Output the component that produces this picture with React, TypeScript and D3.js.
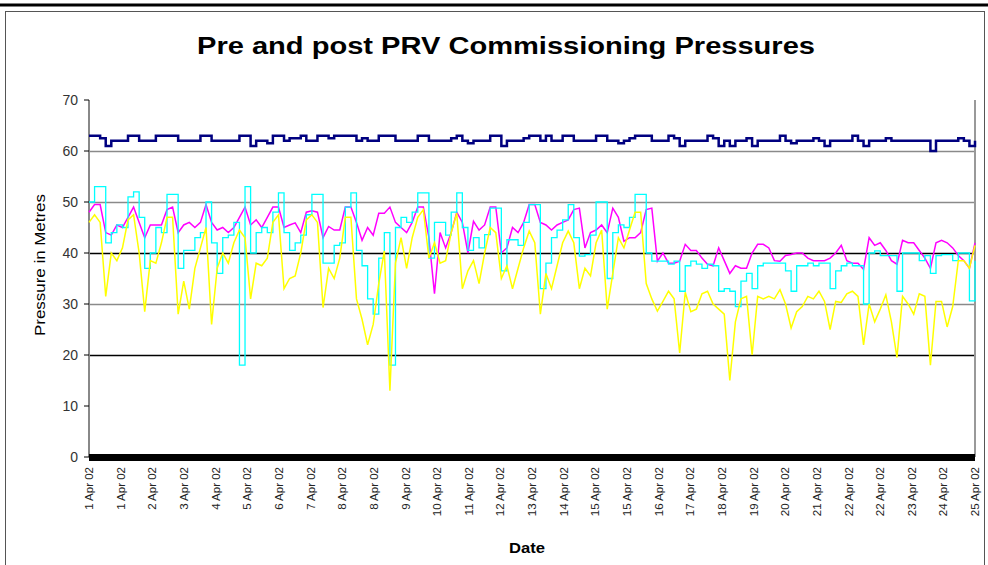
import * as d3 from 'd3';

// readings, evenly spaced across the period (about 6.7 per label interval)
const mainPressure = [
  63, 63, 62.5, 61, 62, 62, 62, 63, 63, 62, 62, 62, 63, 63, 63, 63, 62, 62, 62, 62, 63, 63, 62, 62, 62, 62, 62, 63, 63, 61, 62, 62,
  61.5, 63, 63, 62, 62.5, 62.5, 63, 62, 62, 63, 63, 62.5, 63, 63, 63, 63, 62, 62.5, 62, 62, 63, 63, 63, 62, 62, 62, 62, 63, 63, 62, 62, 62,
  62, 62.5, 63, 62, 61.5, 62, 62, 62, 63, 63, 61, 62, 62, 62, 62.5, 63, 63, 62, 63, 62, 62, 63, 63, 62, 62, 62, 62, 63, 63, 62, 62, 61.5,
  62, 62.5, 63, 63, 63, 62, 62, 62, 63, 62.5, 61, 62, 62, 62, 62, 63, 62.5, 61, 62, 61, 62, 62, 62.5, 61, 62, 62, 62, 62, 63, 62, 61.5, 62,
  62, 62, 62.5, 62, 61, 62, 62, 62, 62, 63, 62, 61, 62, 62, 62, 62.5, 62, 62, 62, 62, 62, 62, 62, 60, 62, 62, 62, 62, 62.5, 62, 61, 62,
];

const pressureMagenta = [
  48, 49.5, 49.5, 44, 43.5, 45.5, 45, 47, 49, 46, 43, 45.5, 45.5, 45.5, 48.5, 49, 44, 45.5, 46, 45, 46, 49.5, 46, 44.5, 45, 44, 45, 47, 49, 45.5, 46.5, 45,
  47, 49, 49, 45, 45.5, 45.9, 44, 48, 48.3, 48, 43, 45.2, 44.5, 44.5, 49, 49, 46, 42.5, 45, 43.5, 47.8, 47.8, 49, 46, 45, 44, 46, 49, 49, 43, 32, 44,
  41, 44, 48, 46, 40, 46.2, 44.5, 45.5, 49, 49, 40, 41, 45, 44, 46, 49.5, 49.5, 46, 45.5, 44.5, 45.5, 46, 46.5, 48.5, 48.8, 41, 44, 44.5, 45.5, 44, 48.8, 47,
  42.3, 43, 43, 44, 48.5, 48.8, 38.4, 40, 38, 38, 38.4, 41.7, 40.5, 40.5, 39, 37.8, 37.5, 41, 38.5, 36, 37.5, 37, 37, 40, 41.7, 41.7, 41, 38.5, 38.4, 39.5, 39.7, 40,
  40, 39, 38.5, 38.5, 38.5, 39, 40, 41.5, 38.5, 38, 38, 36.8, 43, 41.5, 42, 40.5, 38.5, 37.8, 42.5, 42, 42, 40.5, 39, 37, 42, 42.5, 42, 41, 39.5, 38.5, 37, 42,
];

const pressureCyan = [
  50, 53, 53, 42, 44, 45.5, 45, 51, 52, 47, 37, 40, 45, 44, 51.5, 51.5, 37, 40.5, 40.5, 43, 44, 50, 42, 36, 43, 43.5, 46, 18, 53, 40, 44, 45,
  44, 48, 51.8, 44, 40.5, 42, 43.5, 47.5, 51.5, 51.5, 38, 38, 41.5, 42, 49, 51.8, 40.5, 37.5, 31, 28, 39, 44, 18, 45, 47, 46, 48, 51.8, 51.8, 39, 46, 46,
  43.5, 48, 51.8, 45, 40.5, 43, 41, 43.6, 48.8, 48.8, 36.5, 42.6, 42.6, 41.5, 46, 49.5, 49.5, 33, 38, 43, 44.5, 46.5, 49.5, 43, 39.4, 39.7, 43.5, 50, 50, 35, 44, 45.5,
  45, 47, 51.5, 51.5, 40, 38.4, 38.4, 38.4, 37.8, 38.4, 32.5, 37.5, 38.4, 37.8, 37, 37.8, 37.5, 32.5, 33, 32.5, 29.5, 34.5, 36, 33, 37.5, 38, 38, 38, 38, 36.5, 32.5, 37.5,
  37.5, 38, 37.5, 38, 38, 33, 36.5, 37.5, 38, 37.5, 37.5, 30, 40, 40.4, 39.5, 39.5, 39.5, 32.5, 40, 40, 40, 38.5, 39.5, 36, 39.5, 39.7, 39.7, 38.5, 40, 40, 30.6, 38.5,
];

const pressureYellow = [
  46, 47.5, 46, 31.5, 40, 38.5, 41, 46.5, 47.5, 40, 28.5, 38.5, 38, 42, 47, 47, 28, 34.5, 29, 37, 41, 45, 26, 37, 40, 38, 42, 44.5, 43, 31, 38, 37.5,
  39, 46, 47.5, 33, 35, 35.5, 40, 46.5, 47.5, 46, 29.3, 37, 35, 39, 47, 47, 31, 27, 22, 26, 34, 40.4, 13, 38, 43, 37, 43, 47, 48.5, 39, 42, 38,
  38.5, 44, 47.8, 33, 36.5, 38.5, 34, 40, 45, 44, 35, 37.5, 33, 37, 41, 44.3, 42, 28, 36, 33, 37.5, 42, 44.3, 42, 33, 37, 35.5, 42, 44.5, 29, 36, 43,
  41, 44.5, 48, 48, 34, 31, 28.6, 30.5, 32.5, 31, 20.4, 32.3, 28.5, 29, 32, 32.5, 30, 29, 28, 15, 26.5, 31, 31.5, 20, 31.5, 31, 31.5, 31, 32.8, 30, 25.3, 28.5,
  29.5, 31.5, 31, 32.5, 30.5, 25, 30.5, 30.3, 32, 32.5, 31.5, 22, 30, 26.5, 29, 31.8, 26.5, 19.5, 31.5, 30, 28, 32, 31.5, 18, 30.5, 30.5, 25.5, 29.5, 38.5, 38.5, 37, 41.5,
];

const dateLabels = [
  '1 Apr 02', '1 Apr 02', '2 Apr 02', '3 Apr 02', '4 Apr 02', '5 Apr 02', '6 Apr 02', '7 Apr 02',
  '8 Apr 02', '8 Apr 02', '9 Apr 02', '10 Apr 02', '11 Apr 02', '12 Apr 02', '13 Apr 02', '14 Apr 02',
  '15 Apr 02', '15 Apr 02', '16 Apr 02', '17 Apr 02', '18 Apr 02', '19 Apr 02', '20 Apr 02', '21 Apr 02',
  '22 Apr 02', '22 Apr 02', '23 Apr 02', '24 Apr 02', '25 Apr 02',
];

const yTicks = [0, 10, 20, 30, 40, 50, 60, 70];
const gridValues = [20, 30, 40, 50, 60];

const FONT = '"Liberation Sans", Arial, sans-serif';

export default function App() {
  const width = 988;
  const height = 565;
  const margin = { top: 100, right: 13, bottom: 108, left: 89 };
  const innerRight = width - margin.right;
  const innerBottom = height - margin.bottom;

  const n = mainPressure.length;
  const x = d3.scaleLinear().domain([0, n - 1]).range([margin.left, innerRight]);
  const y = d3.scaleLinear().domain([0, 70]).range([innerBottom, margin.top]);
  const xLabel = d3
    .scalePoint<string>()
    .domain(dateLabels.map((_, i) => String(i)))
    .range([margin.left, innerRight]);

  const stepLine = d3
    .line<number>()
    .x((_, i) => x(i))
    .y((d) => y(d))
    .curve(d3.curveStepAfter);
  const plainLine = d3
    .line<number>()
    .x((_, i) => x(i))
    .y((d) => y(d));

  const series = [
    { values: pressureMagenta, color: '#ff00ff', w: 1.5, path: plainLine },
    { values: pressureCyan, color: '#00ffff', w: 1.3, path: stepLine },
    { values: pressureYellow, color: '#ffff00', w: 1.5, path: plainLine },
    { values: mainPressure, color: '#000080', w: 2.5, path: stepLine },
  ];

  return (
    <svg
      width={width}
      height={height}
      style={{ position: 'absolute', left: 0, top: 0, display: 'block', background: '#fff' }}
      fontFamily={FONT}
    >
      <rect x={0} y={0} width={width} height={height} fill="#fff" />
      {/* outer frame */}
      <line x1={0} x2={width} y1={5} y2={5} stroke="#000" strokeWidth={3} />
      <rect x={5.5} y={11.5} width={979} height={560} fill="none" stroke="#555" strokeWidth={1} />

      <text
        x={506}
        y={54}
        textAnchor="middle"
        fontSize={23}
        fontWeight="bold"
        textLength={618}
        lengthAdjust="spacingAndGlyphs"
      >
        Pre and post PRV Commissioning Pressures
      </text>

      {/* gridlines */}
      {gridValues.map((v) => (
        <line
          key={v}
          x1={margin.left}
          x2={innerRight}
          y1={Math.round(y(v)) + 0.5}
          y2={Math.round(y(v)) + 0.5}
          stroke={v === 40 || v === 20 ? '#000' : '#8a8a8a'}
          strokeWidth={1.3}
        />
      ))}

      {/* right plot border and y axis */}
      <line x1={innerRight} x2={innerRight} y1={margin.top} y2={innerBottom} stroke="#999" strokeWidth={2} />
      <line x1={margin.left} x2={margin.left} y1={margin.top} y2={innerBottom} stroke="#888" strokeWidth={2} />
      {yTicks.map((v) => (
        <g key={v}>
          <line x1={margin.left - 5} x2={margin.left} y1={y(v)} y2={y(v)} stroke="#000" strokeWidth={1} />
          <text x={78} y={y(v)} dy="0.36em" textAnchor="end" fontSize={14} fill="#333">
            {v}
          </text>
        </g>
      ))}

      {/* series */}
      {series.map((s, k) => (
        <path
          key={k}
          d={s.path(s.values) || ''}
          fill="none"
          stroke={s.color}
          strokeWidth={s.w}
          strokeLinejoin="miter"
        />
      ))}

      {/* zero series */}
      <line x1={margin.left} x2={innerRight} y1={y(0) + 0.5} y2={y(0) + 0.5} stroke="#000" strokeWidth={7} />

      {/* x labels */}
      {dateLabels.map((d, i) => (
        <text
          key={i}
          transform={`translate(${xLabel(String(i))},467) rotate(-90)`}
          dy="0.36em"
          textAnchor="end"
          fontSize={11.5}
          fill="#222"
        >
          {d}
        </text>
      ))}

      <text x={527} y={553} textAnchor="middle" fontSize={14} fontWeight="bold" textLength={36} lengthAdjust="spacingAndGlyphs">
        Date
      </text>
      <text
        transform="translate(45,265) rotate(-90)"
        textAnchor="middle"
        fontSize={15.5}
        textLength={142}
        lengthAdjust="spacingAndGlyphs"
      >
        Pressure in Metres
      </text>
    </svg>
  );
}
